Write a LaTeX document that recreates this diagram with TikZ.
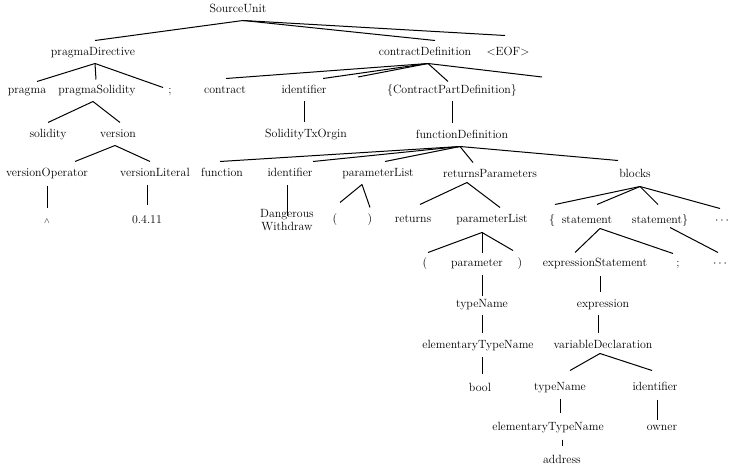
\documentclass[tikz,border=0pt]{standalone}
\begin{document}
\begin{tikzpicture}[x=1pt,y=-1pt,
  t/.style={inner sep=0pt, text height=7pt, text depth=0pt, outer ysep=8pt,
            font=\fontsize{11.9}{13}\selectfont},
  e/.style={line width=1pt}]
\useasboundingbox (0,0) rectangle (737,473);
% nodes
\node[t] (su) at (238,9) {SourceUnit};
\node[t] (pd) at (93,52) {pragmaDirective};
\node[t] (cd) at (425,52) {contractDefinition};
\node[t] (eof) at (508,52) {\textless EOF\textgreater};
\node[t] (pr) at (27,90) {pragma};
\node[t] (ps) at (97,90) {pragmaSolidity};
\node[t] (semia) at (170,90) {;};
\node[t] (con) at (225,90) {contract};
\node[t] (ida) at (304,90) {identifier};
\coordinate (ea) at (358,77);
\node[t] (cpd) at (452,90) {\{ContractPartDefinition\}};
\coordinate (eb) at (542,77);
\node[t] (stx) at (306,134) {SolidityTxOrgin};
\node[t] (fd) at (462,135) {functionDefinition};
\node[t] (sol) at (48,134) {solidity};
\node[t] (ver) at (118,134) {version};
\node[t] (vo) at (47,173) {versionOperator};
\node[t] (vl) at (155,173) {versionLiteral};
\node[t] (caret) at (47,220) {$\scriptstyle\wedge$};
\node[t] (lit) at (147,220) {0.4.11};
\node[t] (fn) at (222,173) {function};
\node[t] (idb) at (290,173) {identifier};
\node[t] (pla) at (378,173) {parameterList};
\node[t] (rp) at (490,174) {returnsParameters};
\node[t] (bl) at (635,174) {blocks};
\node[t, align=center] (dw) at (287,227) {Dangerous\\Withdraw};
\node[t] (lpa) at (335,219) {(};
\node[t] (rpa) at (370,219) {)};
\node[t] (ret) at (413,219) {returns};
\node[t] (plb) at (492,219) {parameterList};
\node[t] (lb) at (552,220) {\{};
\node[t] (sta) at (587,220) {statement};
\node[t] (stb) at (660,220) {statement\}};
\node[t] (dotsa) at (722,220) {$\cdots$};
\node[t] (lpb) at (425,263) {(};
\node[t] (par) at (477,263) {parameter};
\node[t] (rpb) at (520,263) {)};
\node[t] (es) at (595,263) {expressionStatement};
\node[t] (semib) at (678,263) {;};
\node[t] (dotsb) at (720,263) {$\cdots$};
\node[t] (tna) at (482,304) {typeName};
\node[t] (etna) at (478,345) {elementaryTypeName};
\node[t] (bool) at (480,388) {bool};
\node[t] (ex) at (603,304) {expression};
\node[t] (vd) at (603,345) {variableDeclaration};
\node[t] (tnb) at (560,387) {typeName};
\node[t] (idc) at (655,387) {identifier};
\node[t] (etnb) at (548,427) {elementaryTypeName};
\node[t] (own) at (662,427) {owner};
\node[t] (addr) at (562,460) {address};
% edges
\draw[e] ([xshift=5pt]su.south) -- ([xshift=2pt]pd.north);
\draw[e] ([xshift=5pt]su.south) -- ([xshift=10pt]cd.north);
\draw[e] ([xshift=5pt]su.south) -- ([xshift=-3pt,yshift=5pt]eof.north);
\draw[e] ([xshift=2pt]pd.south) -- ([xshift=10pt,yshift=-3pt]pr.north);
\draw[e] ([xshift=2pt]pd.south) -- ([xshift=-1pt,yshift=-1pt]ps.north);
\draw[e] ([xshift=2pt]pd.south) -- ([xshift=-7pt,yshift=-9pt]semia.north);
\draw[e] ([xshift=3pt]cd.south) -- ([xshift=1pt]con.north);
\draw[e] ([xshift=3pt]cd.south) -- ([xshift=19pt]ida.north);
\draw[e] ([xshift=3pt]cd.south) -- (ea);
\draw[e] ([xshift=3pt]cd.south) -- ([xshift=-4pt,yshift=-3pt]cpd.north);
\draw[e] ([xshift=3pt]cd.south) -- (eb);
\draw[e] (ida.south) -- (ida.south |- stx.north);
\draw[e] (cpd.south) -- (cpd.south |- fd.north);
\draw[e] ([xshift=-4pt]ps.south) -- (sol.north);
\draw[e] ([xshift=-4pt]ps.south) -- ([xshift=2pt]ver.north);
\draw[e] ([xshift=-3pt]ver.south) -- ([xshift=28pt]vo.north);
\draw[e] ([xshift=-3pt]ver.south) -- ([xshift=-5pt]vl.north);
\draw[e] ([yshift=-2pt]vo.south) -- (vo.south |- caret.north);
\draw[e] ([yshift=-1pt]lit.north |- vl.south) -- ([yshift=3pt]lit.north);
\draw[e] ([xshift=-2pt]fd.south) -- ([xshift=-2pt]fn.north);
\draw[e] ([xshift=-2pt]fd.south) -- ([xshift=23pt]idb.north);
\draw[e] ([xshift=-2pt]fd.south) -- ([xshift=7pt]pla.north);
\draw[e] ([xshift=-2pt]fd.south) -- ([xshift=-17pt]rp.north);
\draw[e] ([xshift=-2pt]fd.south) -- ([xshift=-17pt,yshift=2pt]bl.north);
\draw[e] ([yshift=-1pt]dw.north |- idb.south) -- ([yshift=-1pt]dw.north);
\draw[e] ([xshift=-16pt]pla.south) -- ([xshift=5pt,yshift=5pt]lpa.north);
\draw[e] ([xshift=-16pt]pla.south) -- (rpa.north);
\draw[e] ([xshift=-23pt,yshift=3pt]rp.south) -- ([xshift=7pt,yshift=3pt]ret.north);
\draw[e] ([xshift=-23pt,yshift=3pt]rp.south) -- ([xshift=8pt]plb.north);
\draw[e] ([xshift=5pt,yshift=-1pt]bl.south) -- ([xshift=3pt,yshift=4pt]lb.north);
\draw[e] ([xshift=5pt,yshift=-1pt]bl.south) -- ([xshift=10pt,yshift=4pt]sta.north);
\draw[e] ([xshift=5pt,yshift=-1pt]bl.south) -- ([xshift=-2pt,yshift=4pt]stb.north);
\draw[e] ([xshift=5pt,yshift=-1pt]bl.south) -- ([xshift=-2pt]dotsa.north);
\draw[e] ([xshift=13pt,yshift=3pt]sta.south) -- ([xshift=-20pt,yshift=-1pt]es.north);
\draw[e] ([xshift=13pt,yshift=3pt]sta.south) -- ([xshift=-5pt,yshift=-2pt]semib.north);
\draw[e] ([xshift=10pt,yshift=4pt]stb.south) -- ([xshift=-2pt,yshift=-1pt]dotsb.north);
\draw[e] ([xshift=-10pt,yshift=-2pt]plb.south) -- ([xshift=3pt,yshift=-1pt]lpb.north);
\draw[e] ([xshift=-10pt,yshift=-2pt]plb.south) -- ([xshift=5pt,yshift=-2pt]par.north);
\draw[e] ([xshift=-10pt,yshift=-2pt]plb.south) -- ([xshift=-7pt,yshift=1pt]rpb.north);
\draw[e] ([yshift=-1pt]tna.north |- par.south) -- ([yshift=-4pt]tna.north);
\draw[e] (tna.south) -- (tna.south |- etna.north);
\draw[e] ([xshift=4pt,yshift=-1pt]etna.south) -- ([xshift=4pt,yshift=3pt]etna.south |- bool.north);
\draw[e] ([xshift=5pt,yshift=-2pt]es.south) -- ([xshift=5pt]es.south |- ex.north);
\draw[e] ([xshift=-5pt]ex.south) -- ([xshift=-5pt]ex.south |- vd.north);
\draw[e] ([xshift=-3pt,yshift=3pt]vd.south) -- ([xshift=10pt,yshift=5pt]tnb.north);
\draw[e] ([xshift=-3pt,yshift=3pt]vd.south) -- ([xshift=-3pt,yshift=5pt]idc.north);
\draw[e] (tnb.south) -- ([yshift=3pt]tnb.south |- etnb.north);
\draw[e] ([xshift=2pt,yshift=-1pt]idc.south) -- ([xshift=2pt,yshift=-4pt]idc.south |- own.north);
\draw[e] ([yshift=-1pt]addr.north |- etnb.south) -- ([yshift=3pt]addr.north);
\end{tikzpicture}
\end{document}
